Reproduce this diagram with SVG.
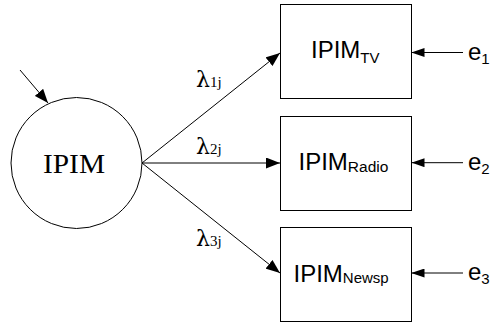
<svg xmlns="http://www.w3.org/2000/svg" width="491" height="324" viewBox="0 0 491 324">
<style>
.box{fill:#fff;stroke:#000;stroke-width:1}
.ln{stroke:#000;stroke-width:1;fill:none;marker-end:url(#ah)}
.sans{font-family:"Liberation Sans",Arial,sans-serif;fill:#000}
.serif{font-family:"Liberation Serif","Times New Roman",serif;fill:#000}
.lam{font-family:"DejaVu Serif","Liberation Serif",serif;fill:#000;font-size:22px}
</style>
<defs>
<marker id="ah" viewBox="0 0 14 11" refX="14" refY="5.5" markerWidth="14" markerHeight="11" markerUnits="userSpaceOnUse" orient="auto">
<path d="M0,0 L14,5.5 L0,11 Z" fill="#000"/>
</marker>
<marker id="ah2" viewBox="0 0 13 9" refX="13" refY="4.5" markerWidth="13" markerHeight="9" markerUnits="userSpaceOnUse" orient="auto">
<path d="M0,0 L13,4.5 L0,9 Z" fill="#000"/>
</marker>
</defs>
<g id="connectors">
<line class="ln" x1="20" y1="70" x2="48" y2="103"/>
<line class="ln" x1="142" y1="163" x2="280" y2="53"/>
<line class="ln" x1="142" y1="163" x2="280" y2="163"/>
<line class="ln" x1="142" y1="163" x2="280" y2="273"/>
<line class="ln" style="marker-end:url(#ah2)" x1="463" y1="52.5" x2="411.5" y2="52.5"/>
<line class="ln" style="marker-end:url(#ah2)" x1="463" y1="162.7" x2="411.5" y2="162.7"/>
<line class="ln" style="marker-end:url(#ah2)" x1="463" y1="273" x2="411.5" y2="273"/>
<text class="lam" x="196" y="86.5">λ<tspan class="serif" font-size="15">1j</tspan></text>
<text class="lam" x="196" y="154">λ<tspan class="serif" font-size="15">2j</tspan></text>
<text class="lam" x="196" y="245.5">λ<tspan class="serif" font-size="15">3j</tspan></text>
</g>
<g id="IPIM">
<circle cx="76.5" cy="163" r="65.5" fill="#fff" stroke="#000" stroke-width="1"/>
<text class="serif" x="74" y="173.3" font-size="28" text-anchor="middle" textLength="62" lengthAdjust="spacingAndGlyphs">IPIM</text>
</g>
<g id="IPIM_TV">
<rect class="box" x="280.5" y="4.5" width="131" height="94"/>
<text class="sans" x="311" y="57.7" font-size="24">IPIM<tspan font-size="15" dy="5">TV</tspan></text>
</g>
<g id="IPIM_Radio">
<rect class="box" x="280.5" y="116.5" width="131" height="94"/>
<text class="sans" x="298.5" y="170" font-size="24">IPIM<tspan font-size="15.5" dy="1.7">Radio</tspan></text>
</g>
<g id="IPIM_Newsp">
<rect class="box" x="280.5" y="227.5" width="131" height="94"/>
<text class="sans" x="293.5" y="281.7" font-size="24">IPIM<tspan font-size="15" dy="1.7">Newsp</tspan></text>
</g>
<g id="e1"><text class="sans" x="468" y="60" font-size="24">e<tspan font-size="15" dy="4">1</tspan></text></g>
<g id="e2"><text class="sans" x="468" y="169.5" font-size="24">e<tspan font-size="15" dy="4">2</tspan></text></g>
<g id="e3"><text class="sans" x="468" y="280" font-size="24">e<tspan font-size="15" dy="4">3</tspan></text></g>
</svg>
